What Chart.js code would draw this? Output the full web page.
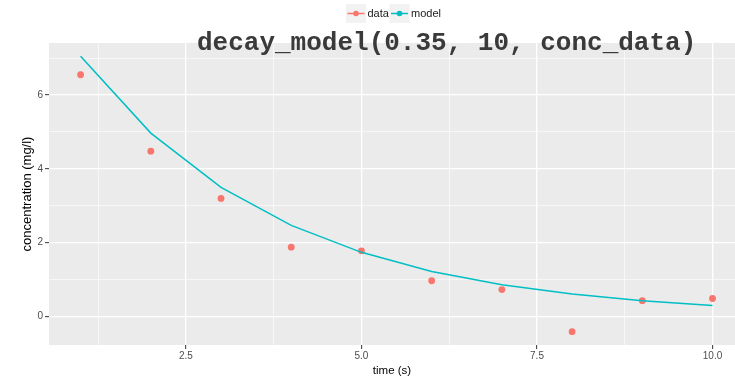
<!DOCTYPE html>
<html><head><meta charset="utf-8">
<script src="https://cdn.jsdelivr.net/npm/chart.js@4/dist/chart.umd.min.js"></script>
<style>html,body{margin:0;padding:0;background:#fff;}#wrap{width:735px;height:380px;}</style>
</head><body><div id="wrap"><canvas id="c" width="735" height="380"></canvas></div>
<script>
// ---- data ----
const timeValues  = [1, 2, 3, 4, 5, 6, 7, 8, 9, 10];
const dataValues  = [6.55, 4.48, 3.20, 1.88, 1.78, 0.97, 0.73, -0.41, 0.43, 0.49];
const modelValues = [7.05, 4.97, 3.50, 2.47, 1.74, 1.22, 0.86, 0.61, 0.43, 0.30];
const xGridValues = [1.25, 2.5, 3.75, 5, 6.25, 7.5, 8.75, 10];
const xTickLabels = [2.5, 5, 7.5, 10];
const yGridValues = [0, 1, 2, 3, 4, 5, 6, 7];
const yTickLabels = [0, 2, 4, 6];
const seriesNames = ['data', 'model'];
const titleText = 'decay_model(0.35, 10, conc_data)';
const xTitle = 'time (s)';
const yTitle = 'concentration (mg/l)';

const RED = '#F8766D', TEAL = '#00BFC4';
const has = (arr, v) => arr.some(m => Math.abs(m - v) < 1e-9);

const bgPlugin = {
  id: 'bg',
  beforeDraw(chart) {
    const {ctx, chartArea: a} = chart;
    ctx.save();
    ctx.fillStyle = '#EBEBEB';
    ctx.fillRect(a.left, a.top, a.right - a.left, a.bottom - a.top);
    ctx.restore();
  }
};

const overlayPlugin = {
  id: 'overlay',
  afterDraw(chart) {
    const ctx = chart.ctx;
    ctx.save();
    // legend
    const keys = [356, 399.5];
    const cy = 13.5;
    chart.data.datasets.forEach((ds, i) => {
      const cx = keys[i];
      ctx.fillStyle = '#F2F2F2';
      ctx.fillRect(cx - 10, 4, 20, 19);
      ctx.strokeStyle = ds.borderColor;
      ctx.lineWidth = 1.5;
      ctx.beginPath(); ctx.moveTo(cx - 8.5, cy); ctx.lineTo(cx + 8.5, cy); ctx.stroke();
      ctx.fillStyle = ds.borderColor;
      ctx.beginPath(); ctx.arc(cx, cy, 2.8, 0, Math.PI * 2); ctx.fill();
      ctx.fillStyle = '#1a1a1a';
      ctx.font = '11px "Liberation Sans", Arial, sans-serif';
      ctx.textBaseline = 'middle';
      ctx.textAlign = 'left';
      ctx.fillText(ds.label, cx + 11.5, cy + 0.5);
    });
    // overlaid title
    ctx.font = 'bold 26px "Courier New", "Liberation Mono", monospace';
    ctx.fillStyle = '#3a3a3a';
    ctx.textBaseline = 'alphabetic';
    ctx.textAlign = 'left';
    ctx.fillText(titleText, 197, 50);
    ctx.restore();
  }
};

new Chart(document.getElementById('c'), {
  type: 'line',
  data: {
    datasets: [
      {
        label: seriesNames[0],
        data: timeValues.map((t, i) => ({x: t, y: dataValues[i]})),
        showLine: false,
        pointRadius: 3.4,
        pointBorderWidth: 0,
        backgroundColor: RED,
        borderColor: RED,
        order: 1
      },
      {
        label: seriesNames[1],
        data: timeValues.map((t, i) => ({x: t, y: modelValues[i]})),
        borderColor: TEAL,
        backgroundColor: TEAL,
        borderWidth: 1.5,
        pointRadius: 0,
        tension: 0,
        order: 0
      }
    ]
  },
  options: {
    responsive: false,
    animation: false,
    devicePixelRatio: 1,
    layout: {autoPadding: false, padding: {top: 43, left: 0, right: 0, bottom: 0}},
    plugins: {legend: {display: false}, tooltip: {enabled: false}, title: {display: false}},
    scales: {
      x: {
        type: 'linear',
        min: 0.55, max: 10.32,
        afterBuildTicks: s => { s.ticks = xGridValues.map(v => ({value: v})); },
        afterFit: s => { s.height = 35; },
        ticks: {
          autoSkip: false, maxRotation: 0, padding: 1,
          color: '#4D4D4D',
          font: {size: 10, family: '"Liberation Sans", Arial, sans-serif'},
          callback: v => has(xTickLabels, v) ? v.toFixed(1) : ''
        },
        grid: {
          color: '#FFFFFF',
          lineWidth: c => has(xTickLabels, c.tick.value) ? 1.3 : 0.6,
          tickColor: c => has(xTickLabels, c.tick.value) ? '#333333' : 'rgba(0,0,0,0)',
          tickLength: 4, tickWidth: 1
        },
        border: {display: false},
        title: {
          display: true, text: xTitle, color: '#000',
          font: {size: 11.5, family: '"Liberation Sans", Arial, sans-serif'},
          padding: {top: 0, bottom: 2.5}
        }
      },
      y: {
        type: 'linear',
        min: -0.77, max: 7.41,
        afterBuildTicks: s => { s.ticks = yGridValues.map(v => ({value: v})); },
        afterFit: s => { s.width = 49; },
        ticks: {
          autoSkip: false, padding: 2,
          color: '#4D4D4D',
          font: {size: 10, family: '"Liberation Sans", Arial, sans-serif'},
          callback: v => has(yTickLabels, v) ? String(v) : ''
        },
        grid: {
          color: '#FFFFFF',
          lineWidth: c => has(yTickLabels, c.tick.value) ? 1.3 : 0.6,
          tickColor: c => has(yTickLabels, c.tick.value) ? '#333333' : 'rgba(0,0,0,0)',
          tickLength: 4, tickWidth: 1
        },
        border: {display: false},
        title: {
          display: true, text: yTitle, color: '#000',
          font: {size: 13, family: '"Liberation Sans", Arial, sans-serif'},
          padding: {top: 19.5, bottom: 0}
        }
      }
    }
  },
  plugins: [bgPlugin, overlayPlugin]
});
</script>
</body></html>
